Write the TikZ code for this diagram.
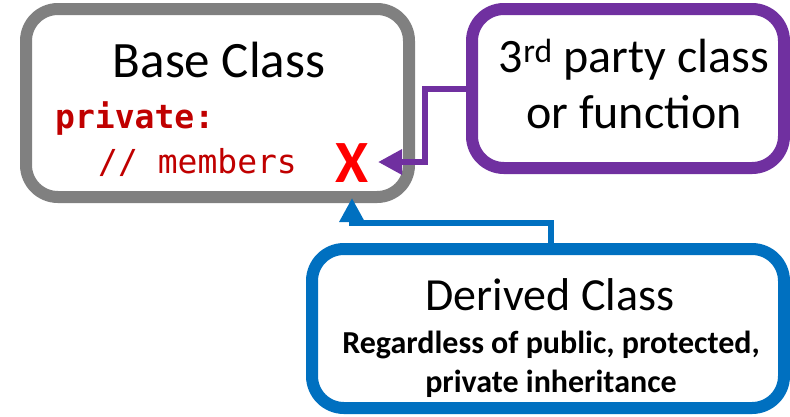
\documentclass[tikz,border=0pt]{standalone}
\usepackage{fontspec}
\setmainfont{Carlito}
\newfontfamily\codefont{DejaVu Sans Mono}
\usetikzlibrary{arrows.meta}
\definecolor{boxgray}{HTML}{808080}
\definecolor{boxpurple}{HTML}{7030A0}
\definecolor{boxblue}{HTML}{0070C0}
\definecolor{codered}{HTML}{C00000}
\definecolor{xred}{HTML}{FF0000}
\tikzset{
  classbox/.style={draw, line width=12pt, rounded corners=32pt, fill=white, inner sep=0pt},
  txt/.style={inner sep=0pt, anchor=base},
  conn/.style={line width=6pt, -{Triangle[length=24pt,width=24pt]}},
}
\begin{document}
\begin{tikzpicture}[x=1pt,y=-1pt]
\useasboundingbox[fill=white] (0,0) rectangle (790,416);
\node[classbox, draw=boxgray, minimum width=383pt, minimum height=188pt] (base) at (217.5,103) {};
\node[classbox, draw=boxpurple, minimum width=312pt, minimum height=159pt] (third) at (628,88.5) {};
\node[classbox, draw=boxblue, minimum width=472pt, minimum height=159pt] (derived) at (548,328.5) {};

\node[txt, font=\fontsize{51}{60}\selectfont] (basetitle) at (219,77) {Base Class};
\node[txt, anchor=base west, text=codered, font=\codefont\bfseries\fontsize{33}{40}\selectfont] (priv) at (55,128) {private:};
\node[txt, anchor=base west, text=codered, font=\codefont\fontsize{33}{40}\selectfont] (mem) at (98,173) {// members};
\node[txt, text=xred, font=\bfseries\fontsize{60}{70}\selectfont] (xmark) at (352,182) {X};

\node[txt, font=\fontsize{48}{58}\selectfont] (third1) at (634,72) {3\textsuperscript{rd} party class};
\node[txt, font=\fontsize{48}{58}\selectfont] (third2) at (634,128) {or function};

\node[txt, font=\fontsize{46}{54}\selectfont] (dertitle) at (550,310) {Derived Class};
\node[txt, font=\bfseries\fontsize{32}{38}\selectfont] (der1) at (551,353) {Regardless of public, protected,};
\node[txt, font=\bfseries\fontsize{32}{38}\selectfont] (der2) at (551,392) {private inheritance};

\coordinate (ptip) at (378,162);
\coordinate (btip) at (352,198);
\draw[conn, draw=boxpurple] (third.west) -| (425,162) -- (ptip);
\draw[conn, draw=boxblue] ([xshift=3pt]derived.north) |- (352,223) -- (btip);
\end{tikzpicture}
\end{document}
